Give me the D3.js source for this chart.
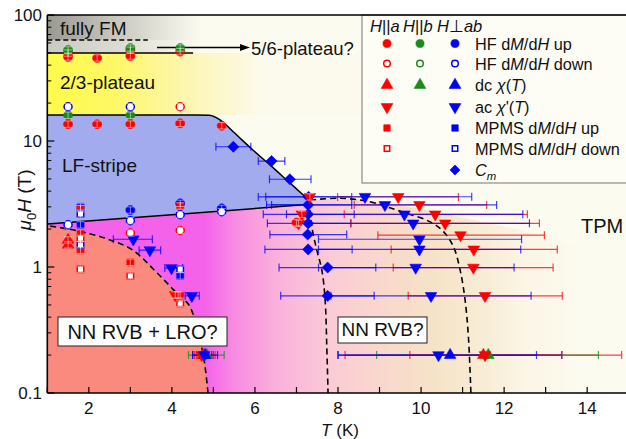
<!DOCTYPE html>
<html>
<head>
<meta charset="utf-8">
<script src="https://cdn.jsdelivr.net/npm/d3@7"></script>
<style>
  body { margin: 0; background: #fff; }
  svg { display: block; font-family: "Liberation Sans", Arial, sans-serif; }
</style>
</head>
<body>
<div id="chart"></div>
<script>
// ---------- data (T in K, mu0H in T) ----------
const xTicks = d3.range(1, 16);
const xTickLabels = [2, 4, 6, 8, 10, 12, 14];
const yTickLabels = [0.1, 1, 10, 100];

// phase boundaries [T, H]
const stripeTop = [[1, 16.1], [4.6, 16.1], [4.9, 16.0], [5.16, 14.7], [5.47, 11.9], [5.95, 8.48],
  [6.36, 6.46], [6.84, 4.65], [7.25, 3.51]];
const stripeBottom = [[1, 2.19], [7.25, 3.13]];
const lroLine = [[1.07, 2.11], [1.84, 1.90], [2.51, 1.64], [3.06, 1.36], [3.64, 0.90], [4.20, 0.58],
  [4.44, 0.48], [4.68, 0.264], [4.80, 0.161], [4.87, 0.1]];
const rvbLine = [[7.30, 3.40], [7.37, 2.08], [7.49, 1.36], [7.61, 0.95], [7.69, 0.547], [7.73, 0.232], [7.76, 0.1]];
const tpmLine = [[7.33, 3.40], [8.05, 3.51], [8.77, 3.30], [9.17, 3.01], [9.65, 2.67], [10.21, 2.29],
  [10.54, 1.91], [10.78, 1.45], [10.94, 0.95], [11.06, 0.547], [11.14, 0.28], [11.20, 0.1]];
const crossoverEdge = [[7.3, 3.45], [8.5, 3.45], [10, 2.9], [12.3, 2.0], [15, 1.1]];
const fmField = 63.4, plateau56 = 50, plateau23 = 16.1;
const fmLineEnd = 3.42, plateau56End = 4.51;

// points: [T, H, field direction, Tlow, Thigh]
const hfUp = [
  [1.5, 49.9, "a"], [1.5, 46.4, "a"], [1.5, 13.6, "a"], [2.2, 45.6, "a"], [2.2, 13.6, "a"],
  [3.0, 52.5, "a"], [3.0, 47.3, "a"], [3.0, 13.6, "a"], [4.2, 51.2, "a"], [4.2, 13.8, "a"],
  [5.2, 13.2, "a"], [7.0, 2.25, "a"],
  [1.5, 52.8, "b"], [1.5, 16.0, "b"], [3.0, 54.7, "b"], [3.0, 16.0, "b"], [4.2, 54.7, "b"],
  [3.0, 2.83, "c"], [4.2, 3.2, "c"], [5.2, 2.92, "c"]
];
const hfDown = [
  [1.5, 18.7, "c"], [3.0, 18.7, "c"], [4.2, 18.7, "a"], [1.5, 2.16, "c"], [3.0, 2.33, "c"],
  [4.2, 2.6, "c"], [5.2, 2.75, "c"], [3.0, 1.86, "a"], [4.2, 1.95, "a"]
];
const mpmsUp = [
  [1.8, 3.0, "c"], [1.8, 2.16, "c"], [4.2, 0.85, "c"],
  [1.8, 2.9, "a"], [1.8, 1.86, "a"], [1.8, 1.36, "a"], [3.0, 1.09, "a"], [4.2, 0.6, "a"], [4.2, 3.05, "a"]
];
const mpmsDown = [
  [1.8, 2.63, "c"], [1.8, 1.5, "c"], [4.2, 0.96, "c"],
  [1.8, 1.69, "a"], [1.8, 0.96, "a"], [3.0, 0.85, "a"], [4.2, 0.515, "a"]
];
const dcChi = [
  [1.5, 1.64, "a"], [1.5, 1.5, "a"], [4.75, 0.2, "a", 4.55, 5.0], [11.5, 0.2, "a", 8.17, 14.83],
  [4.84, 0.2, "b", 4.40, 5.26], [11.62, 0.2, "b", 8.93, 14.27],
  [4.8, 0.2, "c", 4.5, 4.96], [10.70, 0.2, "c", 8.0, 13.39]
];
const acChi = [
  [4.08, 0.6, "a"], [4.15, 0.6, "a"], [4.72, 0.2, "a", 4.6, 5.04], [7.32, 3.6, "a"],
  [9.45, 3.6, "a", 7.99, 10.90], [9.96, 3.11, "a", 8.39, 11.58], [7.13, 2.62, "a"],
  [10.34, 2.62, "a", 8.15, 12.56], [7.05, 2.22, "a"], [10.58, 2.22, "a", 8.31, 12.85],
  [10.95, 1.79, "a", 8.96, 12.97], [11.27, 1.38, "a", 9.28, 13.28], [11.26, 0.99, "a", 9.33, 13.18],
  [11.54, 0.59, "a", 9.69, 13.4], [11.54, 0.2, "a", 9.73, 13.39],
  [3.07, 1.66, "c", 2.59, 3.53], [3.47, 1.36, "c", 3.21, 3.73], [3.99, 0.98, "c", 3.83, 4.26],
  [4.48, 0.59, "c", 4.32, 4.66], [8.65, 3.61, "c", 6.26, 11.22], [9.13, 3.11, "c", 6.4, 11.82],
  [9.6, 2.62, "c", 6.76, 12.45], [9.81, 2.22, "c", 7.0, 12.61], [9.96, 1.66, "c", 7.53, 12.42],
  [9.96, 1.38, "c", 7.53, 12.4], [9.87, 0.99, "c", 7.53, 12.24], [10.24, 0.59, "c", 7.83, 12.65],
  [10.42, 0.2, "c", 8.0, 12.78], [4.78, 0.2, "c", 4.5, 5.1]
];
const cm = [
  [5.48, 9.0, "c", 5.06, 5.90], [6.40, 6.93, "c", 6.08, 6.72], [6.84, 4.97, "c", 6.35, 7.35],
  [7.29, 3.6, "c", 6.08, 8.33], [7.28, 3.11, "c", 6.28, 8.33], [7.28, 2.62, "c", 6.2, 8.39],
  [7.28, 2.22, "c", 6.3, 8.31], [7.27, 1.81, "c", 6.36, 8.21], [7.28, 1.38, "c", 6.24, 8.34],
  [7.75, 0.99, "c", 6.58, 8.91], [7.75, 0.59, "c", 6.62, 8.87]
];
const sweepErr = 1.06; // relative field error of the sweep points

const legendHeader = [[["H", 1], ["||", 0], ["a", 1]], [["H", 1], ["||", 0], ["b", 1]], [["H", 1], ["\u22a5", 0], ["ab", 1]]];
const legendLabels = [
  [["HF d", 0], ["M", 1], ["/d", 0], ["H", 1], [" up", 0]],
  [["HF d", 0], ["M", 1], ["/d", 0], ["H", 1], [" down", 0]],
  [["dc ", 0], ["\u03c7", 1], ["(", 0], ["T", 1], [")", 0]],
  [["ac ", 0], ["\u03c7", 1], ["'(", 0], ["T", 1], [")", 0]],
  [["MPMS d", 0], ["M", 1], ["/d", 0], ["H", 1], [" up", 0]],
  [["MPMS d", 0], ["M", 1], ["/d", 0], ["H", 1], [" down", 0]],
  [["C", 1], ["m", 2]]
];
const legendDirs = [["a", "b", "c"], ["a", "b", "c"], ["a", "b", "c"], ["a", "c"], ["a", "c"], ["a", "c"], ["c"]];

// ---------- setup ----------
const width = 626, height = 439;
const x = d3.scaleLinear().domain([1, 15]).range([47.3, 628.7]);
const y = d3.scaleLog().domain([0.1, 100]).range([393, 15]);
const dirColor = { a: "#ff0000", b: "#1b8a1b", c: "#0000ff" };

const svg = d3.select("#chart").append("svg")
  .attr("width", width).attr("height", height);
const defs = svg.append("defs");

defs.append("clipPath").attr("id", "clip").append("rect")
  .attr("x", x(1)).attr("y", y(100)).attr("width", x(15) - x(1)).attr("height", y(0.1) - y(100));

function hGrad(id, stops) {
  const g = defs.append("linearGradient").attr("id", id)
    .attr("gradientUnits", "userSpaceOnUse")
    .attr("x1", x(1)).attr("x2", x(15)).attr("y1", 0).attr("y2", 0);
  stops.forEach(([t, c]) => g.append("stop").attr("offset", (t - 1) / 14).attr("stop-color", c));
}
hGrad("gFM", [[1, "#999991"], [2.5, "#c4c4bc"], [4.7, "#fcfbf0"]]);
hGrad("g56", [[1, "#cacac2"], [2.8, "#dcdcd2"], [4.7, "#fcfbf0"]]);
hGrad("gYel", [[1, "#fffb4a"], [2.6, "#fef866"], [4.3, "#fcf6b0"], [6.2, "#fcfaec"]]);
hGrad("gLow", [[4.8, "#f462ea"], [5.5, "#f88be2"], [6.5, "#fab0dc"], [7.8, "#fbcbd6"], [9.0, "#f9d7cd"],
  [10.3, "#f6e3c6"], [11.3, "#f7ebd3"], [12.6, "#fbf6e6"], [14, "#fcfbf0"]]);

const px = pts => pts.map(([t, h]) => [x(t), y(h)]);
const smoothX = d3.line().curve(d3.curveMonotoneX);
const smooth = d3.line().curve(d3.curveCatmullRom.alpha(0.5));

// ---------- regions ----------
const plot = svg.append("g").attr("clip-path", "url(#clip)");
plot.append("rect").attr("x", x(1)).attr("y", y(100)).attr("width", x(15) - x(1))
  .attr("height", y(0.1) - y(100)).attr("fill", "#fcfbf0");
plot.append("rect").attr("x", x(1)).attr("y", y(100)).attr("width", x(15) - x(1))
  .attr("height", y(fmField) - y(100)).attr("fill", "url(#gFM)");
plot.append("rect").attr("x", x(1)).attr("y", y(fmField)).attr("width", x(15) - x(1))
  .attr("height", y(plateau56) - y(fmField)).attr("fill", "url(#g56)");
plot.append("rect").attr("x", x(1)).attr("y", y(plateau56)).attr("width", x(15) - x(1))
  .attr("height", y(plateau23) - y(plateau56)).attr("fill", "url(#gYel)");

const lowPoly = px(stripeBottom.concat(crossoverEdge, [[15, 0.1], [1, 0.1]]));
plot.append("path").attr("d", "M" + lowPoly.join("L") + "Z").attr("fill", "url(#gLow)");

plot.append("path")
  .attr("d", `M${x(1)},${y(0.1)}L${x(1)},${y(2.15)}` + smoothX(px(lroLine)).replace(/^M/, "L") + "Z")
  .attr("fill", "#f98a7d");

const sb = px(stripeBottom);
plot.append("path")
  .attr("d", smoothX(px(stripeTop)) + `L${sb[1]}L${sb[0]}Z`)
  .attr("fill", "#a1abee");

// ---------- boundary lines ----------
plot.append("path").attr("d", smoothX(px(stripeTop))).attr("fill", "none")
  .attr("stroke", "#000").attr("stroke-width", 1.5);
plot.append("path").attr("d", d3.line()(sb)).attr("fill", "none")
  .attr("stroke", "#000").attr("stroke-width", 1.5);
[[lroLine, smoothX], [rvbLine, smooth], [tpmLine, smooth]].forEach(([pts, gen]) => {
  plot.append("path").attr("d", gen(px(pts))).attr("fill", "none")
    .attr("stroke", "#000").attr("stroke-width", 1.6).attr("stroke-dasharray", "6,4");
});
plot.append("line").attr("x1", x(1)).attr("x2", x(plateau56End)).attr("y1", y(plateau56)).attr("y2", y(plateau56))
  .attr("stroke", "#000").attr("stroke-width", 1.5);
plot.append("line").attr("x1", x(1)).attr("x2", x(fmLineEnd)).attr("y1", y(fmField)).attr("y2", y(fmField))
  .attr("stroke", "#000").attr("stroke-width", 1.5).attr("stroke-dasharray", "5,3");

// ---------- region labels ----------
const label = (txt, lx, ly, size) => svg.append("text").attr("x", lx).attr("y", ly)
  .attr("font-size", size).attr("fill", "#111").text(txt);
label("fully FM", 60, 35, 19);
label("2/3-plateau", 60, 89, 19);
label("LF-stripe", 62, 172, 19);
label("TPM", 581, 233, 20);
label("5/6-plateau?", 251, 55, 18.5);
svg.append("line").attr("x1", 157).attr("x2", 242).attr("y1", 47.5).attr("y2", 47.5)
  .attr("stroke", "#000").attr("stroke-width", 1.3);
svg.append("path").attr("d", "M250,47.5L240,44L240,51Z").attr("fill", "#000");

function boxLabel(txt, bx, by, bw, bh, size) {
  svg.append("rect").attr("x", bx).attr("y", by).attr("width", bw).attr("height", bh)
    .attr("fill", "#fff").attr("stroke", "#222").attr("stroke-width", 1);
  svg.append("text").attr("x", bx + bw / 2).attr("y", by + bh - 7).attr("text-anchor", "middle")
    .attr("font-size", size).attr("fill", "#111").text(txt);
}
boxLabel("NN RVB + LRO?", 58, 317, 169, 29, 20);
boxLabel("NN RVB?", 338, 317, 89, 26, 19);

// ---------- markers ----------
const shapeType = { circle: d3.symbolCircle, square: d3.symbolSquare, up: d3.symbolTriangle,
  down: d3.symbolTriangle, diamond: d3.symbolSquare };
function marker(g, shape, color, open, cx, cy, size) {
  let tr = `translate(${cx},${cy})`;
  if (shape === "down") tr += " rotate(180)";
  if (shape === "diamond") tr += " rotate(45)";
  g.append("path").attr("d", d3.symbol().type(shapeType[shape]).size(size)())
    .attr("transform", tr)
    .attr("fill", open ? "#fff" : color)
    .attr("stroke", color).attr("stroke-width", open ? 1.5 : 0.6);
}

const series = [
  { data: cm, shape: "diamond", open: false, size: 62 },
  { data: hfUp, shape: "circle", open: false, size: 64 },
  { data: hfDown, shape: "circle", open: true, size: 50 },
  { data: mpmsUp, shape: "square", open: false, size: 50 },
  { data: mpmsDown, shape: "square", open: true, size: 42 },
  { data: dcChi, shape: "up", open: false, size: 58 },
  { data: acChi, shape: "down", open: false, size: 58 }
];

const pts = svg.append("g").attr("clip-path", "url(#clip)");
const bars = pts.append("g").attr("stroke-width", 1.2).attr("stroke-opacity", 0.75);
series.forEach(s => s.data.forEach(d => {
  if (d[3] === undefined) return;
  const c = dirColor[d[2]], yy = y(d[1]);
  bars.append("line").attr("x1", x(d[3])).attr("x2", x(d[4])).attr("y1", yy).attr("y2", yy).attr("stroke", c);
  [d[3], d[4]].forEach(t => bars.append("line").attr("x1", x(t)).attr("x2", x(t))
    .attr("y1", yy - 4).attr("y2", yy + 4).attr("stroke", c));
}));
const marks = pts.append("g");
series.forEach(s => s.data.forEach(d => {
  marker(marks, s.shape, dirColor[d[2]], s.open, x(d[0]), y(d[1]), s.size);
}));
// field-sweep error crosses
const crosses = pts.append("g").attr("stroke", "#fff").attr("stroke-opacity", 0.55).attr("stroke-width", 0.9);
series.forEach(s => s.data.forEach(d => {
  if (d[3] !== undefined || s.shape === "diamond") return;
  const cx = x(d[0]), y1 = y(d[1] * sweepErr), y2 = y(d[1] / sweepErr);
  crosses.append("line").attr("x1", cx).attr("x2", cx).attr("y1", y1).attr("y2", y2);
  [y1, y2].forEach(v => crosses.append("line").attr("x1", cx - 4).attr("x2", cx + 4).attr("y1", v).attr("y2", v));
}));

// ---------- legend ----------
const lg = svg.append("g");
lg.append("rect").attr("x", 362).attr("y", 15).attr("width", 270).attr("height", 168)
  .attr("fill", "#fdfdf6").attr("stroke", "#8a8a8a").attr("stroke-width", 1.2);

function richText(g, segs, tx, ty, size, anchor) {
  const t = g.append("text").attr("x", tx).attr("y", ty).attr("font-size", size)
    .attr("fill", "#111").attr("text-anchor", anchor || "start");
  segs.forEach(([s, st]) => {
    const sp = t.append("tspan").text(s);
    if (st >= 1) sp.attr("font-style", "italic");
    if (st === 2) sp.attr("font-size", size * 0.7).attr("dy", 4);
  });
  return t;
}
const headerX = [370, 403, 437];
legendHeader.forEach((segs, i) => richText(lg, segs, headerX[i], 32, 16.5));

const legendShapes = [["circle", false], ["circle", true], ["up", false], ["down", false],
  ["square", false], ["square", true], ["diamond", false]];
const colX = { a: 387, b: 420, c: 455 };
const rowY = [43.5, 63.5, 85, 107, 128, 148.5, 170];
legendShapes.forEach(([shape, open], i) => {
  legendDirs[i].forEach(dir => {
    const sz = shape === "circle" ? (open ? 34 : 52) : shape === "square" ? (open ? 30 : 42) : shape === "diamond" ? 50 : 60;
    marker(lg, shape, dirColor[dir], open, colX[dir], rowY[i], sz);
  });
  richText(lg, legendLabels[i], 475, rowY[i] + 6, 16.3);
});

// ---------- axes ----------
const ax = svg.append("g").attr("stroke", "#000").attr("fill", "none");
ax.append("line").attr("x1", x(1)).attr("x2", x(15)).attr("y1", y(0.1)).attr("y2", y(0.1)).attr("stroke-width", 1.6);
ax.append("line").attr("x1", x(1)).attr("x2", x(15)).attr("y1", y(100)).attr("y2", y(100)).attr("stroke-width", 1.4);
ax.append("line").attr("x1", x(1)).attr("x2", x(1)).attr("y1", y(0.1)).attr("y2", y(100)).attr("stroke-width", 1.6);
xTicks.forEach(t => ax.append("line").attr("x1", x(t)).attr("x2", x(t))
  .attr("y1", y(0.1)).attr("y2", y(0.1) - 6).attr("stroke-width", 1.2));
yTickLabels.forEach((v, i) => {
  ax.append("line").attr("x1", x(1)).attr("x2", x(1) + 7).attr("y1", y(v)).attr("y2", y(v)).attr("stroke-width", 1.2);
  if (i < yTickLabels.length - 1) d3.range(2, 10).forEach(k => ax.append("line")
    .attr("x1", x(1)).attr("x2", x(1) + 4).attr("y1", y(k * v)).attr("y2", y(k * v)).attr("stroke-width", 1));
});
svg.append("g").selectAll("text").data(xTickLabels).join("text")
  .attr("x", d => x(d)).attr("y", 414).attr("text-anchor", "middle")
  .attr("font-size", 17).attr("fill", "#111").text(d => d);
svg.append("g").selectAll("text").data(yTickLabels).join("text")
  .attr("x", 42).attr("y", d => y(d) + 6).attr("text-anchor", "end")
  .attr("font-size", 17).attr("fill", "#111").text(d => d);

richText(svg, [["T", 1], [" (K)", 0]], 340, 435.5, 17, "middle");
const yl = svg.append("text").attr("transform", "translate(31,200) rotate(-90)")
  .attr("text-anchor", "middle").attr("font-size", 19).attr("fill", "#111");
yl.append("tspan").attr("font-style", "italic").text("\u03bc");
yl.append("tspan").attr("font-size", 13).attr("dy", 5).text("0");
yl.append("tspan").attr("font-style", "italic").attr("dy", -5).text("H");
yl.append("tspan").text(" (T)");
</script>
</body>
</html>
